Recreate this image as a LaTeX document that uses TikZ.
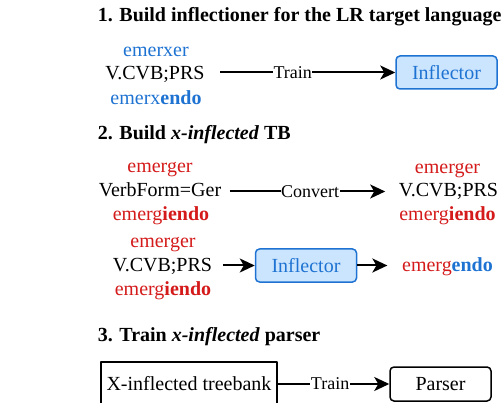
\documentclass[tikz,border=0pt]{standalone}
\usepackage{fontspec}
\setmainfont{Liberation Serif}
\usetikzlibrary{arrows.meta}
\definecolor{infblue}{HTML}{1E73D2}
\definecolor{infred}{HTML}{D41A1A}
\definecolor{infbox}{HTML}{CCE5FF}
\newcommand{\fs}{\fontsize{20}{24}\selectfont}
\tikzset{every node/.style={inner sep=0pt,font=\fs},every path/.style={line width=1.5pt,line join=round}}
\tikzset{
  head/.style={anchor=base west,font=\fs\bfseries},
  word/.style={anchor=base,text height=15pt,text depth=4pt},
  arr/.style={line width=2pt,-{Stealth[length=15pt,width=14pt,inset=4pt]}},
  lbl/.style={fill=white,inner xsep=0.5pt,inner ysep=2pt,font=\fontsize{18}{21}\selectfont},
  tool/.style={draw=infblue,fill=infbox,text=infblue,rounded corners=4pt,minimum width=101pt,minimum height=33pt},
  plain/.style={draw=black,rounded corners=4pt,minimum width=101pt,minimum height=34pt}
}

\begin{document}
\begin{tikzpicture}[x=1pt,y=-1pt]
  \useasboundingbox (0,0) rectangle (503,403);
  % 1. inflector
  \node[head] (s1) at (97,22) {1. Build inflectioner for the LR target language};
  \node[word,text=infblue] (lemA) at (156,57) {emerxer};
  \node[word] (tagA) at (155,80) {V.CVB;PRS};
  \node[word,text=infblue] (formA) at (156,105) {emerx\textbf{endo}};
  \node[tool] (infA) at (446.5,72.5) {Inflector};
  \draw[arr,shorten <=15pt] (tagA.east |- infA) -- node[lbl,pos=.46]{Train} (infA);
  % 2. x-inflected treebank
  \node[head] (s2) at (97,140) {2. Build \textit{x-inflected} TB};
  \node[word,text=infred] (lemB) at (160,173) {emerger};
  \node[word] (tagB) at (160,197) {VerbForm=Ger};
  \node[word,text=infred] (formB) at (161,221) {emerg\textbf{iendo}};
  \node[word,text=infred] (lemC) at (447.5,174) {emerger};
  \node[word] (tagC) at (448.5,197) {V.CVB;PRS};
  \node[word,text=infred] (formC) at (447.5,221) {emerg\textbf{iendo}};
  \draw[arr,shorten <=8pt,shorten >=13pt] (tagB) -- node[lbl]{Convert} (tagC);
  \node[word,text=infred] (lemD) at (163,248) {emerger};
  \node[word] (tagD) at (162.5,272) {V.CVB;PRS};
  \node[word,text=infred] (formD) at (163,295) {emerg\textbf{iendo}};
  \node[tool] (infB) at (306,265.5) {Inflector};
  \node[word,text=infred] (outD) at (447.5,272) {emerg\textcolor{infblue}{\textbf{endo}}};
  \draw[arr,shorten <=10pt] (tagD.east |- infB) -- (infB);
  \draw[arr,shorten >=14pt] (infB) -- (outD.west |- infB);
  % 3. parser
  \node[head] (s3) at (97,341) {3. Train \textit{x-inflected} parser};
  \node[draw,minimum width=176pt,minimum height=44pt] (tb) at (189,384) {X-inflected treebank};
  \node[plain] (parser) at (440.5,384) {Parser};
  \draw[arr] (tb) -- node[lbl,pos=.47]{Train} (parser);
\end{tikzpicture}
\end{document}
